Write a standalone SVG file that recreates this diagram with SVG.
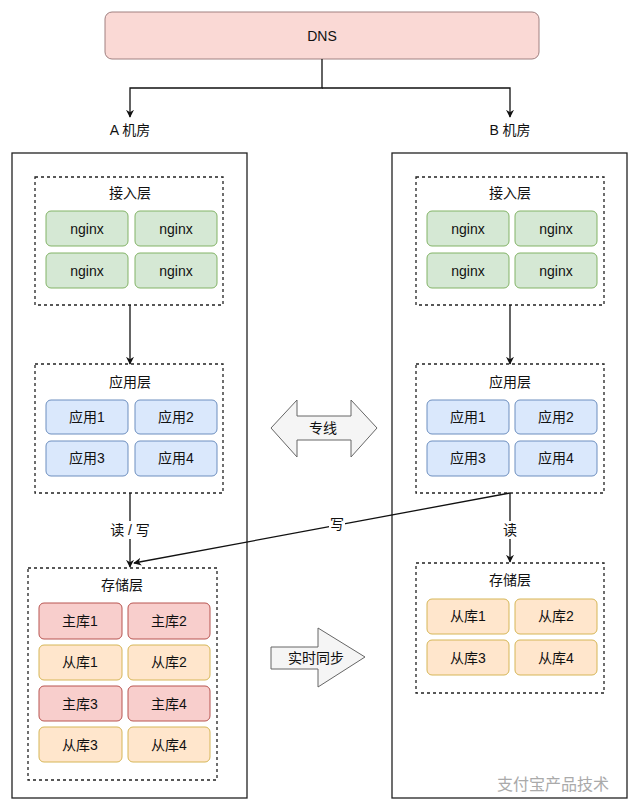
<svg xmlns="http://www.w3.org/2000/svg" width="640" height="811" viewBox="0 0 640 811">
<defs>
<style>
text{font-family:"Liberation Sans","Noto Sans CJK SC",sans-serif;font-size:14px;fill:#111;text-anchor:middle;dominant-baseline:central}
.room{fill:#fff;stroke:#222;stroke-width:1.3}
.layer{fill:none;stroke:#222;stroke-width:1.3;stroke-dasharray:3 3}
.g{fill:#d5e8d4;stroke:#82b366}
.b{fill:#dae8fc;stroke:#6c8ebf}
.r{fill:#f8cecc;stroke:#b85450}
.y{fill:#ffe6cc;stroke:#d6b656}
.line{fill:none;stroke:#111;stroke-width:1.3}
.big{fill:#f5f5f5;stroke:#666;stroke-width:1}
</style>
<marker id="ah" viewBox="0 0 10 10" refX="9" refY="5" markerWidth="8" markerHeight="8" orient="auto" markerUnits="userSpaceOnUse">
<path d="M0,0 L10,5 L0,10 L3,5 z" fill="#111"/>
</marker>
</defs>
<rect width="640" height="811" fill="#fff"/>

<g id="dns"><rect x="105" y="12" width="434" height="47" rx="7" fill="#fad9d5" stroke="#a08080"/><text x="322" y="36">DNS</text></g>

<g id="roomA"><rect class="room" x="12" y="153" width="235" height="645"/><text x="130" y="130">A 机房</text></g>
<g id="roomB"><rect class="room" x="392" y="153" width="235" height="645"/><text x="510" y="130">B 机房</text></g>

<g id="accessA"><rect class="layer" x="35" y="177" width="188" height="128"/><text x="130" y="193">接入层</text>
<rect class="g" x="46" y="211" width="82" height="35" rx="5"/><text x="87" y="229">nginx</text>
<rect class="g" x="135" y="211" width="82" height="35" rx="5"/><text x="176" y="229">nginx</text>
<rect class="g" x="46" y="253" width="82" height="35" rx="5"/><text x="87" y="271">nginx</text>
<rect class="g" x="135" y="253" width="82" height="35" rx="5"/><text x="176" y="271">nginx</text></g>

<g id="appA"><rect class="layer" x="35" y="364" width="188" height="129"/><text x="130" y="382">应用层</text>
<rect class="b" x="46" y="400" width="82" height="34" rx="5"/><text x="87" y="417">应用1</text>
<rect class="b" x="135" y="400" width="82" height="34" rx="5"/><text x="176" y="417">应用2</text>
<rect class="b" x="46" y="441" width="82" height="35" rx="5"/><text x="87" y="458">应用3</text>
<rect class="b" x="135" y="441" width="82" height="35" rx="5"/><text x="176" y="458">应用4</text></g>

<g id="storeA"><rect class="layer" x="28" y="568" width="189" height="212"/><text x="122" y="585">存储层</text>
<rect class="r" x="39" y="603" width="83" height="36" rx="5"/><text x="80" y="621">主库1</text>
<rect class="r" x="128" y="603" width="82" height="36" rx="5"/><text x="169" y="621">主库2</text>
<rect class="y" x="39" y="645" width="83" height="35" rx="5"/><text x="80" y="662">从库1</text>
<rect class="y" x="128" y="645" width="82" height="35" rx="5"/><text x="169" y="662">从库2</text>
<rect class="r" x="39" y="686" width="83" height="35" rx="5"/><text x="80" y="704">主库3</text>
<rect class="r" x="128" y="686" width="82" height="35" rx="5"/><text x="169" y="704">主库4</text>
<rect class="y" x="39" y="727" width="83" height="35" rx="5"/><text x="80" y="745">从库3</text>
<rect class="y" x="128" y="727" width="82" height="35" rx="5"/><text x="169" y="745">从库4</text></g>

<g id="accessB"><rect class="layer" x="416" y="177" width="188" height="128"/><text x="510" y="193">接入层</text>
<rect class="g" x="427" y="211" width="82" height="35" rx="5"/><text x="468" y="229">nginx</text>
<rect class="g" x="515" y="211" width="82" height="35" rx="5"/><text x="556" y="229">nginx</text>
<rect class="g" x="427" y="253" width="82" height="35" rx="5"/><text x="468" y="271">nginx</text>
<rect class="g" x="515" y="253" width="82" height="35" rx="5"/><text x="556" y="271">nginx</text></g>

<g id="appB"><rect class="layer" x="416" y="364" width="188" height="129"/><text x="510" y="382">应用层</text>
<rect class="b" x="427" y="400" width="82" height="34" rx="5"/><text x="468" y="417">应用1</text>
<rect class="b" x="515" y="400" width="82" height="34" rx="5"/><text x="556" y="417">应用2</text>
<rect class="b" x="427" y="441" width="82" height="35" rx="5"/><text x="468" y="458">应用3</text>
<rect class="b" x="515" y="441" width="82" height="35" rx="5"/><text x="556" y="458">应用4</text></g>

<g id="storeB"><rect class="layer" x="416" y="563" width="188" height="130"/><text x="510" y="580">存储层</text>
<rect class="y" x="427" y="599" width="82" height="35" rx="5"/><text x="468" y="616">从库1</text>
<rect class="y" x="515" y="599" width="82" height="35" rx="5"/><text x="556" y="616">从库2</text>
<rect class="y" x="427" y="640" width="82" height="35" rx="5"/><text x="468" y="658">从库3</text>
<rect class="y" x="515" y="640" width="82" height="35" rx="5"/><text x="556" y="658">从库4</text></g>

<g id="zhuanxian"><path class="big" d="M271,428 L297,400 L297,416 L351,416 L351,400 L377,428 L351,457 L351,440 L297,440 L297,457 Z"/><text x="323" y="428">专线</text></g>
<g id="sync"><path class="big" d="M271,647 L318,647 L318,628 L365,657 L318,687 L318,669 L271,669 Z"/><text x="316" y="658">实时同步</text></g>

<g id="connectors">
<path class="line" d="M322,59 V88 H130 V117" marker-end="url(#ah)"/>
<path class="line" d="M322,88 H510 V117" marker-end="url(#ah)"/>
<path class="line" d="M130,305 V364" marker-end="url(#ah)"/>
<path class="line" d="M510,305 V364" marker-end="url(#ah)"/>
<path class="line" d="M130,493 V567" marker-end="url(#ah)"/>
<rect x="108" y="521" width="44" height="18" fill="#fff"/><text x="130" y="530">读 / 写</text>
<path class="line" d="M510,493 V562" marker-end="url(#ah)"/>
<rect x="501" y="521" width="18" height="18" fill="#fff"/><text x="510" y="530">读</text>
<path class="line" d="M510,493 L134,563" marker-end="url(#ah)"/>
<rect x="329" y="516" width="16" height="16" fill="#fff"/><text x="337" y="524">写</text>
</g>

<g id="watermark"><text x="553" y="784" style="font-size:16px;fill:#aaa">支付宝产品技术</text></g>
</svg>
